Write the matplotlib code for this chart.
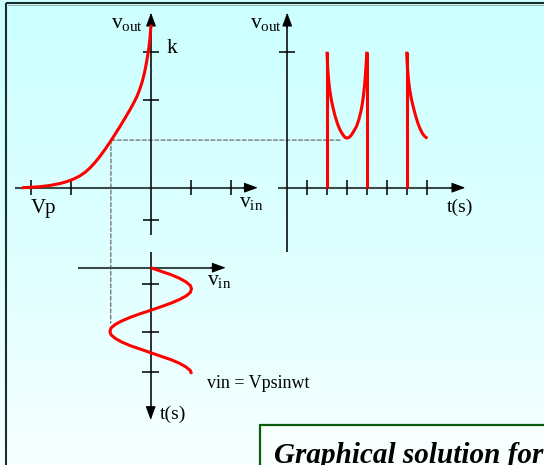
import numpy as np
import matplotlib
matplotlib.use("Agg")
import matplotlib.pyplot as plt
from matplotlib.patches import ConnectionPatch, Rectangle
from matplotlib.colors import LinearSegmentedColormap

# ---------------- data ----------------
# transfer characteristic  vout = f(vin)
vin_curve = [-3.225, -3.025, -2.775, -2.525, -2.275, -2.15, -2.025, -1.9, -1.775, -1.65,
             -1.525, -1.4, -1.275, -1.15, -1.025, -0.9, -0.775, -0.65, -0.525, -0.425,
             -0.35, -0.275, -0.2125, -0.1625, -0.1175, -0.08, -0.05, -0.025, -0.01, 0.0]
vout_curve = [0.0, 0.009, 0.026, 0.056, 0.105, 0.139, 0.18, 0.232, 0.297, 0.383,
              0.495, 0.63, 0.785, 0.956, 1.14, 1.333, 1.531, 1.738, 1.95, 2.133,
              2.285, 2.475, 2.675, 2.875, 3.1, 3.325, 3.525, 3.75, 3.925, 4.075]
vin_ticks_a = [-3, -2, 1, 2]
vout_ticks_a = [3.4, 2.2, -0.8]

# output waveform vout(t)
spike_t = [2, 4, 6]
spike_top = 3.4
seg1_t = [2.0, 2.025, 2.055, 2.095, 2.14, 2.21, 2.29, 2.39, 2.52, 2.63, 2.75, 2.85, 2.93, 3.0,
          3.1, 3.2, 3.32, 3.48, 3.6, 3.7, 3.77, 3.83, 3.88, 3.92, 3.955, 3.98, 4.0]
seg1_v = [3.4, 3.10, 2.86, 2.62, 2.44, 2.22, 2.03, 1.82, 1.61, 1.47, 1.36, 1.29, 1.25, 1.24,
          1.255, 1.30, 1.39, 1.53, 1.70, 1.90, 2.08, 2.30, 2.52, 2.75, 3.0, 3.2, 3.4]
seg2_t = [6.0, 6.03, 6.065, 6.11, 6.16, 6.24, 6.33, 6.44, 6.57, 6.68, 6.79, 6.90, 7.04]
seg2_v = [3.4, 3.10, 2.86, 2.62, 2.44, 2.22, 2.03, 1.82, 1.61, 1.47, 1.36, 1.29, 1.23]
t_ticks_b = [1, 2, 3, 4, 5, 6, 7]
vout_ticks_b = [3.4]

# input waveform vin(t), drawn with time running downwards
sine_t = [0.00, 0.18, 0.35, 0.53, 0.71, 0.89, 1.06, 1.24, 1.42, 1.59, 1.77, 1.95, 2.13,
          2.30, 2.48, 2.66, 2.83, 3.01, 3.19, 3.36, 3.54, 3.72, 3.90, 4.07, 4.25,
          4.43, 4.60, 4.78, 4.96, 5.14, 5.31]
sine_v = [0.00, 0.26, 0.51, 0.72, 0.88, 0.99, 1.02, 0.99, 0.88, 0.72, 0.51, 0.26, 0.00,
          -0.26, -0.51, -0.72, -0.88, -0.99, -1.02, -0.99, -0.88, -0.72, -0.51, -0.26, 0.00,
          0.26, 0.51, 0.72, 0.88, 0.99, 1.02]
t_ticks_c = [0.8, 3.2, 5.2]

# operating point shown by the dashed construction lines
op_vin = -1.0
op_vout = 1.19

# ---------------- styling ----------------
plt.rcParams["font.family"] = ["Liberation Serif", "DejaVu Serif"]
plt.rcParams["mathtext.fontset"] = "custom"
plt.rcParams["mathtext.rm"] = "Liberation Serif"
plt.rcParams["mathtext.it"] = "Liberation Serif:italic"

RED = "#FF0000"
HAX = "#3E4A4A"
VAX = "#0E0E0E"
DASH = "#6B6B6B"
LW_RED = 2.2
FS = 13.5
FSV = 15.5

W, H = 544, 465
fig = plt.figure(figsize=(W / 100, H / 100), dpi=100)

# background gradient and frame
bg = fig.add_axes([0, 0, 1, 1])
cmap = LinearSegmentedColormap.from_list("bg", ["#CCFFFF", "#DDFFFF", "#F6FFFF"])
bg.imshow(np.linspace(0, 1, 256)[:, None], cmap=cmap, extent=[0, W, H, 0], aspect="auto")
bg.set_xlim(0, W)
bg.set_ylim(H, 0)
bg.axis("off")
bg.plot([6.3, W], [3.3, 3.3], color="#1B2E2E", lw=1.5, solid_capstyle="butt")
bg.plot([6.3, 6.3], [3.3, H], color="#1B2E2E", lw=1.5, solid_capstyle="butt")
bg.plot([7.5, W], [5.0, 5.0], color="#93AAAA", lw=0.6)


def sub_axes(x0, x1, y0, y1, ox, oy, sx, sy, down=False):
    ax = fig.add_axes([x0 / W, 1 - y1 / H, (x1 - x0) / W, (y1 - y0) / H])
    ax.set_xlim((x0 - ox) / sx, (x1 - ox) / sx)
    if down:
        ax.set_ylim((y1 - oy) / sy, (y0 - oy) / sy)
    else:
        ax.set_ylim((oy - y1) / sy, (oy - y0) / sy)
    ax.axis("off")
    return ax


def head(ax, start, tip):
    ax.annotate("", xy=tip, xytext=start, annotation_clip=False,
                arrowprops=dict(arrowstyle="-|>,head_length=0.6,head_width=0.22",
                                mutation_scale=14, color="black", lw=0.8,
                                shrinkA=0, shrinkB=0))


def axis_line(ax, xs, ys, color, lw):
    ax.plot(xs, ys, color=color, lw=lw, solid_capstyle="butt", clip_on=False, zorder=2)


def red(ax, xs, ys):
    ax.plot(xs, ys, color=RED, lw=LW_RED, solid_capstyle="butt",
            solid_joinstyle="round", clip_on=False, zorder=4)


axA = sub_axes(8, 272, 6, 245, 151, 187.7, 40, 40)
axB = sub_axes(272, 480, 6, 260, 287.2, 187.7, 19.9, 40)
axC = sub_axes(70, 320, 245, 430, 150.7, 267.7, 40, 20, down=True)

# ---- transfer characteristic ----
axis_line(axA, [-3.4, 2.6], [0, 0], HAX, 1.5)
head(axA, (2.3, 0), (2.67, 0))
axis_line(axA, [0, 0], [-1.18, 4.3], VAX, 1.2)
head(axA, (0, 4.0), (0, 4.375))
axA.vlines(vin_ticks_a, -0.19, 0.19, color="black", lw=1.1, clip_on=False)
axA.hlines(vout_ticks_a, -0.2, 0.2, color="black", lw=1.1, clip_on=False)
red(axA, vin_curve, vout_curve)
axA.text(-0.99, 3.985, r"$\mathrm{v}_{\mathrm{out}}$", fontsize=FSV, ha="left", va="baseline")
axA.text(0.39, 3.375, "k", fontsize=FSV, ha="left", va="baseline")
axA.text(-3.01, -0.64, "Vp", fontsize=FS + 1.5, ha="left", va="baseline")
axA.text(2.2, -0.475, r"$\mathrm{v}_{\mathrm{in}}$", fontsize=FSV, ha="left", va="baseline")

# dashed construction lines
for xyB, axT in [((2.75, op_vout), axB), ((op_vin, 2.77), axC)]:
    con = ConnectionPatch(xyA=(op_vin, op_vout), coordsA=axA.transData,
                          xyB=xyB, coordsB=axT.transData, color=DASH, lw=0.9,
                          linestyle=(0, (3.2, 1.8)), zorder=1)
    con.set_clip_on(False)
    axA.add_artist(con)

# ---- output waveform ----
axis_line(axB, [-0.45, 8.6], [0, 0], HAX, 1.5)
head(axB, (8.2, 0), (8.95, 0))
axis_line(axB, [0, 0], [-1.6, 4.3], VAX, 1.2)
head(axB, (0, 4.0), (0, 4.375))
axB.vlines(t_ticks_b, -0.19, 0.19, color="black", lw=1.1, clip_on=False)
axB.hlines(vout_ticks_b, -0.4, 0.4, color="black", lw=1.1, clip_on=False)
axB.vlines(spike_t, 0, spike_top, color=RED, lw=LW_RED, clip_on=False, zorder=4)
red(axB, seg1_t, seg1_v)
red(axB, seg2_t, seg2_v)
axB.text(-1.86, 3.985, r"$\mathrm{v}_{\mathrm{out}}$", fontsize=FSV, ha="left", va="baseline")
axB.text(8.03, -0.6, "t(s)", fontsize=FS + 0.5, ha="left", va="baseline")

# ---- input waveform ----
axis_line(axC, [-1.81, 1.7], [0, 0], HAX, 1.5)
head(axC, (1.5, 0), (1.875, 0))
axis_line(axC, [0, 0], [-0.8, 7.2], VAX, 1.2)
head(axC, (0, 7.0), (0, 7.615))
axC.hlines(t_ticks_c, -0.21, 0.21, color="black", lw=1.1, clip_on=False)
red(axC, sine_v, sine_t)
axC.text(1.42, 0.865, r"$\mathrm{v}_{\mathrm{in}}$", fontsize=FSV, ha="left", va="baseline")
axC.text(1.4, 6.03, "vin = Vpsinwt", fontsize=FS - 0.5, ha="left", va="baseline")
axC.text(0.215, 7.56, "t(s)", fontsize=FS + 0.5, ha="left", va="baseline")

# ---- caption box ----
ov = fig.add_axes([0, 0, 1, 1], zorder=5)
ov.set_xlim(0, W)
ov.set_ylim(H, 0)
ov.axis("off")
ov.add_patch(Rectangle((260, 425), 320, 80, facecolor="#F7FFFF", edgecolor="#0B5D0B", lw=1.6))
ov.text(274, 463, "Graphical solution for small signal", fontsize=21, fontweight="bold",
        fontstyle="italic", ha="left", va="baseline", clip_on=False)

fig.savefig("out.png", dpi=100)
